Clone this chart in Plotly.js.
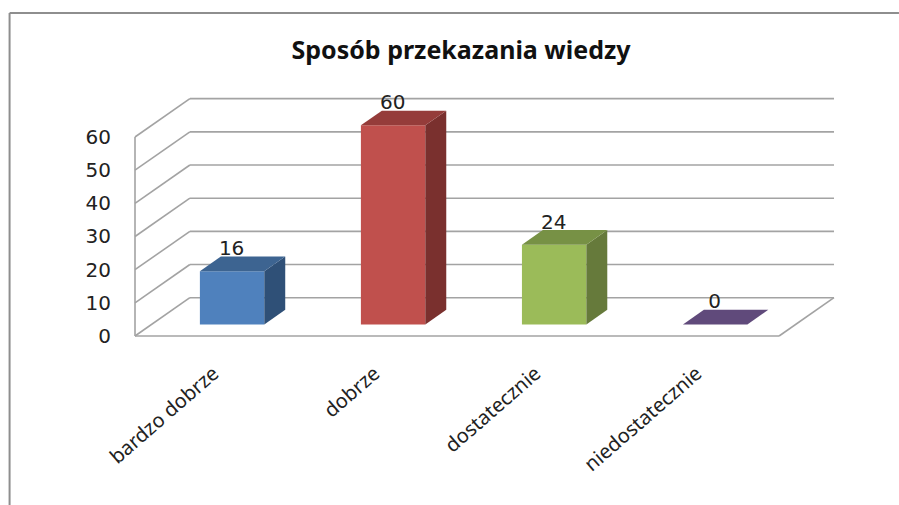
<!DOCTYPE html>
<html>
<head>
<meta charset="utf-8">
<script src="https://cdn.plot.ly/plotly-3.0.1.min.js"></script>
<style>html,body{margin:0;padding:0;background:#fff}#chart{width:899px;height:505px}</style>
</head>
<body>
<div id="chart"></div>
<script>
const categories = ["bardzo dobrze", "dobrze", "dostatecznie", "niedostatecznie"];
const values = [16, 60, 24, 0];
const yTicks = [0, 10, 20, 30, 40, 50, 60];
const chartTitle = "Sposób przekazania wiedzy";

const frontColors = ["#4F81BD", "#C0504D", "#9BBB59", "#8064A2"];
const topColors = ["#3D6491", "#953C3A", "#779145", "#604A7B"];
const sideColors = ["#2F5077", "#7A302E", "#667A3B", "#4F3D66"];

// Projection of the pseudo-3D box, in axis units
const W = 899, H = 505;
const pxX = 161.1, pxY = 3.317;
const wallDx = 0.341, wallDy = 11.55;
const barDx = 0.103, barDy = 3.5;
const depthDx = 0.13, depthDy = 4.43;
const barWidth = 0.4;
const labelDx = 0.1, labelDy = 9.8;

const L = 124.5, R = 55, T = 93, B = 163;
const padX = 10 / pxX, padY = 6 / pxY;
const xEnd = categories.length - 0.5;

const GRID = "#A3A3A3";
const seg = (x0, y0, x1, y1) => ({
  type: "line", layer: "below", xref: "x", yref: "y", x0, y0, x1, y1,
  line: { color: GRID, width: 1.6 }
});
const shapes = [];
yTicks.forEach(t => {
  shapes.push(seg(-0.5, t, -0.5 + wallDx, t + wallDy));
  shapes.push(seg(-0.5 + wallDx, t + wallDy, xEnd + wallDx, t + wallDy));
});
shapes.push(seg(-0.5, 0, -0.5, yTicks[yTicks.length - 1]));
shapes.push(seg(-0.5, 0, xEnd, 0));
shapes.push(seg(xEnd, 0, xEnd + wallDx, wallDy));

// Chart frame (left and top edges), in page pixels converted to paper units
const px = v => (v - L) / (W - L - R);
const py = v => 1 - (v - T) / (H - T - B);
const frame = { color: "#8E8E8E", width: 2 };
shapes.push({ type: "line", xref: "paper", yref: "paper", x0: px(9), x1: px(9), y0: py(13), y1: py(505), line: frame });
shapes.push({ type: "line", xref: "paper", yref: "paper", x0: px(9), x1: px(899), y0: py(13), y1: py(13), line: frame });

const traces = [];
traces.push({
  type: "bar",
  x: categories.map((_, i) => i + barDx),
  y: values,
  base: values.map(() => barDy),
  width: categories.map(() => barWidth),
  marker: { color: frontColors, line: { width: 0 } },
  hoverinfo: "skip"
});
values.forEach((v, i) => {
  const xl = i + barDx - barWidth / 2, xr = xl + barWidth;
  const yb = barDy, yt = barDy + v;
  if (v > 0) {
    traces.push({
      type: "scatter", mode: "lines", fill: "toself", fillcolor: sideColors[i],
      x: [xr, xr + depthDx, xr + depthDx, xr, xr],
      y: [yb, yb + depthDy, yt + depthDy, yt, yb],
      line: { width: 0 }, hoverinfo: "skip"
    });
  }
  traces.push({
    type: "scatter", mode: "lines", fill: "toself", fillcolor: topColors[i],
    x: [xl, xr, xr + depthDx, xl + depthDx, xl],
    y: [yt, yt, yt + depthDy, yt + depthDy, yt],
    line: { width: 0 }, hoverinfo: "skip"
  });
});
traces.push({
  type: "scatter", mode: "text",
  x: categories.map((_, i) => i + labelDx),
  y: values.map(v => v + labelDy),
  text: values.map(String),
  textposition: "middle center",
  textfont: { family: "DejaVu Sans", size: 20, color: "#222222" },
  cliponaxis: false,
  hoverinfo: "skip"
});

const layout = {
  width: W, height: H,
  margin: { l: L, r: R, t: T, b: B, pad: 0 },
  paper_bgcolor: "#ffffff", plot_bgcolor: "#ffffff",
  showlegend: false, hovermode: false,
  font: { family: "Noto Sans", color: "#222222" },
  title: {
    text: "<b>" + chartTitle + "</b>",
    x: 461 / W, xanchor: "center", xref: "container",
    y: 1 - 50 / H, yanchor: "middle", yref: "container",
    font: { family: "Noto Sans", size: 25, color: "#111111" }
  },
  xaxis: {
    range: [-0.5 - padX, xEnd + wallDx + padX],
    tickmode: "array", tickvals: categories.map((_, i) => i), ticktext: categories,
    tickangle: -41, ticks: "outside", ticklen: 11, tickcolor: "rgba(0,0,0,0)",
    ticklabelshift: -2,
    tickfont: { family: "Noto Sans", size: 20, color: "#222222" },
    showgrid: false, zeroline: false, showline: false, fixedrange: true
  },
  yaxis: {
    range: [-padY, (336 - 99) / pxY + padY],
    tickmode: "array", tickvals: yTicks,
    ticks: "outside", ticklen: 9, tickcolor: "rgba(0,0,0,0)",
    ticklabelshift: -2.5,
    tickfont: { family: "DejaVu Sans", size: 20, color: "#222222" },
    showgrid: false, zeroline: false, showline: false, fixedrange: true
  },
  shapes
};
Plotly.newPlot("chart", traces, layout, { displayModeBar: false, staticPlot: true });
</script>
</body>
</html>
